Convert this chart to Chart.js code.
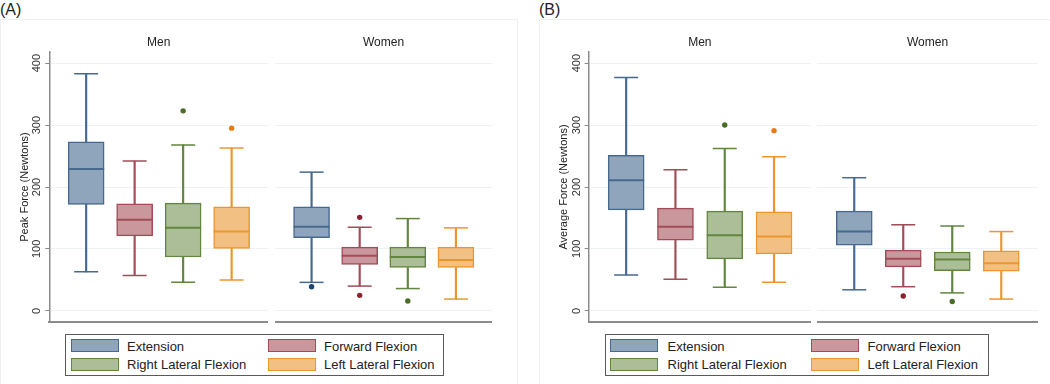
<!DOCTYPE html>
<html>
<head>
<meta charset="utf-8">
<script src="https://cdn.jsdelivr.net/npm/chart.js@4.4.1/dist/chart.umd.min.js"></script>
<style>
  body { margin: 0; background: #fff; font-family: "Liberation Sans", Arial, sans-serif; }
  #page { position: relative; width: 1050px; height: 384px; overflow: hidden; background: #fff; }
  .frame { position: absolute; border: 1px solid #edf1f4; }
  .plabel { position: absolute; font-size: 16px; line-height: 18px; color: #222; }
  .chartbox { position: absolute; top: 0; }
  .legend { position: absolute; top: 334px; height: 42px; border: 1.5px solid #5a5a5a; box-sizing: border-box; background: #fff; }
  .sw { position: absolute; width: 48px; height: 13px; box-sizing: border-box; border: 1.5px solid; }
  .lt { position: absolute; font-size: 13px; line-height: 15px; color: #222; white-space: nowrap; }
</style>
</head>
<body>
<div id="page">
  <div class="frame" style="left:0;top:19px;width:516px;height:380px;"></div>
  <div class="frame" style="left:539px;top:19px;width:520px;height:380px;"></div>
  <div class="plabel" style="left:0;top:1px;">(A)</div>
  <div class="plabel" style="left:539px;top:1px;">(B)</div>

  <div class="chartbox" style="left:0;"><canvas id="aMen" width="268" height="330"></canvas></div>
  <div class="chartbox" style="left:275px;"><canvas id="aWomen" width="217" height="330"></canvas></div>
  <div class="chartbox" style="left:539px;"><canvas id="bMen" width="272" height="330"></canvas></div>
  <div class="chartbox" style="left:817px;"><canvas id="bWomen" width="221" height="330"></canvas></div>

  <div class="legend" id="legA" style="left:65px;width:379px;"></div>
  <div class="legend" id="legB" style="left:605px;width:384px;"></div>
</div>

<script>
// 카테고리 / 그룹
const categories = ["Extension", "Forward Flexion", "Right Lateral Flexion", "Left Lateral Flexion"];
const groups = ["Men", "Women"];
const yTicks = [0, 100, 200, 300, 400];

// 박스 값: [아래 수염, Q1, 중앙값, Q3, 위 수염]
const peakMen = [[63, 172, 229, 273, 383], [57, 121, 147, 173, 242], [46, 87, 134, 174, 268], [50, 101, 128, 168, 263]];
const peakWomen = [[46, 118, 136, 168, 224], [40, 75, 89, 103, 135], [36, 70, 87, 103, 149], [19, 70, 82, 103, 134]];
const peakMenOut = [[], [], [323], [295]];
const peakWomenOut = [[39], [151, 25], [16], []];

const avgMen = [[58, 163, 211, 251, 377], [51, 114, 136, 166, 228], [38, 84, 122, 161, 262], [46, 92, 120, 160, 249]];
const avgWomen = [[34, 106, 128, 161, 215], [39, 71, 84, 98, 139], [29, 65, 83, 95, 137], [19, 64, 77, 97, 128]];
const avgMenOut = [[], [], [300], [291]];
const avgWomenOut = [[], [24], [15], []];

// 색상
const fillColors = ["#8fa5bb", "#c9979c", "#abbe97", "#f2c083"];
const lineColors = ["#46698f", "#a24c58", "#62853f", "#ec962f"];
const dotColors = ["#1c436d", "#8c2232", "#4c6d26", "#e67c10"];

Chart.defaults.font.family = '"Liberation Sans", Arial, sans-serif';
Chart.defaults.animation = false;

function boxChart(id, group, boxes, outliers, yTitle, axisWidth) {
  const xs = categories.map((c, i) => i + 1);
  const caps = [], capColors = [];
  const dots = [], dotCols = [];
  boxes.forEach((b, i) => {
    caps.push({ x: xs[i], y: b[0] }, { x: xs[i], y: b[4] });
    capColors.push(lineColors[i], lineColors[i]);
    outliers[i].forEach(v => { dots.push({ x: xs[i], y: v }); dotCols.push(dotColors[i]); });
  });

  const datasets = [
    { type: "scatter", label: "median", data: boxes.map((b, i) => ({ x: xs[i], y: b[2] })),
      pointStyle: "line", pointRadius: 18, borderColor: lineColors, pointBorderWidth: 2 },
    { type: "scatter", label: "outliers", data: dots,
      pointRadius: 2.7, backgroundColor: dotCols, borderColor: dotCols, pointBorderWidth: 0 },
    { type: "scatter", label: "caps", data: caps,
      pointStyle: "line", pointRadius: 12, borderColor: capColors, pointBorderWidth: 1.5 },
    { type: "bar", label: "box", data: boxes.map((b, i) => ({ x: xs[i], y: [b[1], b[3]] })),
      backgroundColor: fillColors, borderColor: lineColors, borderWidth: 1.5, borderSkipped: false,
      barThickness: 36, grouped: false },
    { type: "bar", label: "lower", data: boxes.map((b, i) => ({ x: xs[i], y: [b[0], b[1]] })),
      backgroundColor: lineColors, borderWidth: 0, barThickness: 1.5, grouped: false },
    { type: "bar", label: "upper", data: boxes.map((b, i) => ({ x: xs[i], y: [b[3], b[4]] })),
      backgroundColor: lineColors, borderWidth: 0, barThickness: 1.5, grouped: false }
  ];

  const showAxis = axisWidth > 0;
  return new Chart(document.getElementById(id), {
    type: "bar",
    data: { datasets },
    options: {
      responsive: false,
      layout: { autoPadding: false, padding: { left: 0, right: 0, top: 0, bottom: 8 } },
      plugins: {
        legend: { display: false },
        tooltip: { enabled: false },
        title: { display: true, text: group, fullSize: false, color: "#222",
                 font: { size: 12, weight: "normal" }, padding: { top: 35.8, bottom: 1.8 } }
      },
      scales: {
        x: {
          type: "linear", min: 0.24, max: 4.75, offset: false,
          grid: { display: false, drawTicks: false, offset: false },
          ticks: { display: false },
          border: { display: true, color: "#8c8c8c", width: 2 }
        },
        y: {
          type: "linear", min: -18, max: 418,
          afterBuildTicks: s => { s.ticks = yTicks.map(v => ({ value: v })); },
          afterFit: s => { s.width = axisWidth; },
          grid: { color: "#edf2f4", lineWidth: 1, drawTicks: showAxis, tickLength: 4, tickColor: "#888", tickWidth: 1 },
          ticks: { display: showAxis, minRotation: 90, maxRotation: 90, crossAlign: "center",
                   padding: -1, color: "#333", font: { size: 11 } },
          border: { display: showAxis, color: "#8c8c8c", width: 1.5 },
          title: { display: showAxis, text: yTitle, color: "#222", font: { size: 11 },
                   padding: { top: 18.5, bottom: 0 } }
        }
      }
    }
  });
}

boxChart("aMen", groups[0], peakMen, peakMenOut, "Peak Force (Newtons)", 49.3);
boxChart("aWomen", groups[1], peakWomen, peakWomenOut, "", 0);
boxChart("bMen", groups[0], avgMen, avgMenOut, "Average Force (Newtons)", 49.7);
boxChart("bWomen", groups[1], avgWomen, avgWomenOut, "", 0);

// 범례
function buildLegend(id, swLeft, txtLeft) {
  const el = document.getElementById(id);
  categories.forEach((c, i) => {
    const col = i % 2, row = Math.floor(i / 2);
    const sw = document.createElement("div");
    sw.className = "sw";
    sw.style.left = swLeft[col] + "px";
    sw.style.top = (row === 0 ? 4 : 22.5) + "px";
    sw.style.background = fillColors[i];
    sw.style.borderColor = lineColors[i];
    el.appendChild(sw);
    const t = document.createElement("div");
    t.className = "lt";
    t.textContent = c;
    t.style.left = txtLeft[col] + "px";
    t.style.top = (row === 0 ? 3.5 : 21.5) + "px";
    el.appendChild(t);
  });
}
buildLegend("legA", [4.5, 202], [61, 258]);
buildLegend("legB", [4, 205], [61.5, 261.5]);
</script>
</body>
</html>
